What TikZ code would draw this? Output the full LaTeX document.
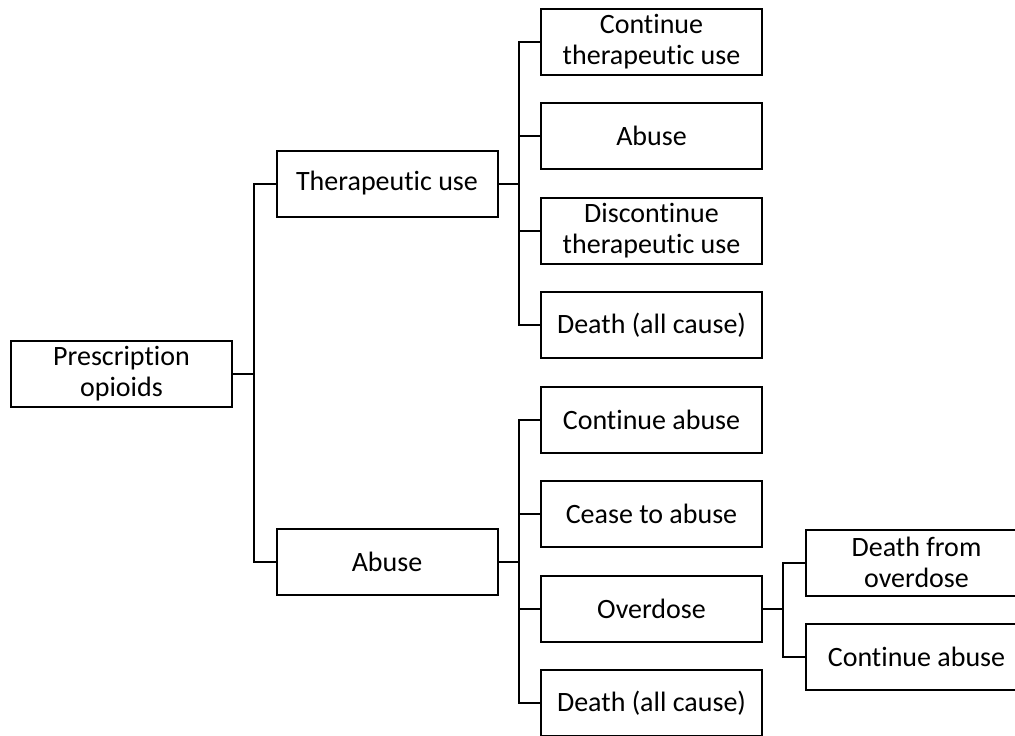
\documentclass[tikz,border=0pt]{standalone}
\usepackage{fontspec}
\setmainfont{Carlito}[Ligatures=CommonOff]
\begin{document}
\begin{tikzpicture}[x=1pt,y=-1pt,
  box/.style={draw=black,line width=2pt,minimum width=221pt,minimum height=66pt,
    align=center,inner sep=0pt,font=\fontsize{28}{31}\selectfont},
  conn/.style={draw=black,line width=2pt}]
\useasboundingbox (0,0) rectangle (1015,736);
\fill[white] (0,0) rectangle (1015,736);
% level 0
\node[box] (po) at (121.5,373.5) {Prescription\\opioids};
% level 1
\node[box] (tu) at (387,183.5) {Therapeutic use};
\node[box] (ab) at (387,561.5) {Abuse};
% level 2
\node[box] (ctu) at (651.5,41.5) {Continue\\therapeutic use};
\node[box] (tab) at (651.5,136) {Abuse};
\node[box] (dtu) at (651.5,230.5) {Discontinue\\therapeutic use};
\node[box] (tdc) at (651.5,325) {Death (all cause)};
\node[box] (ca) at (651.5,419.5) {Continue abuse};
\node[box] (cta) at (651.5,514) {Cease to abuse};
\node[box] (od) at (651.5,608.5) {Overdose};
\node[box] (adc) at (651.5,703) {Death (all cause)};
% level 3
\node[box] (dfo) at (916.5,562.5) {Death from\\overdose};
\node[box] (oca) at (916.5,656.5) {Continue abuse};
% connectors
\coordinate (j0) at (254,373.5);
\coordinate (j1) at (519,183.5);
\coordinate (j2) at (519,561.5);
\coordinate (j3) at (783,608.5);
\draw[conn] (po.east) -- (j0);
\draw[conn] (tu.west) -| (j0);
\draw[conn] (ab.west) -| (j0);
\draw[conn] (tu.east) -- (j1);
\foreach \n in {ctu,tab,dtu,tdc} \draw[conn] (\n.west) -| (j1);
\draw[conn] (ab.east) -- (j2);
\foreach \n in {ca,cta,od,adc} \draw[conn] (\n.west) -| (j2);
\draw[conn] (od.east) -- (j3);
\foreach \n in {dfo,oca} \draw[conn] (\n.west) -| (j3);
\end{tikzpicture}
\end{document}
